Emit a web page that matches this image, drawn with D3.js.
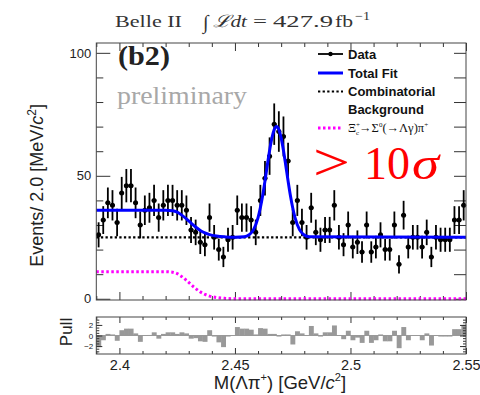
<!DOCTYPE html>
<html>
<head>
<meta charset="UTF-8">
<script src="https://d3js.org/d3.v7.min.js"></script>
<style>
  body { margin: 0; background: #fff; }
  text { font-family: "Liberation Sans", Arial, sans-serif; }
  .serif { font-family: "Liberation Serif", "Times New Roman", serif; }
  .axis text { font-family: "Liberation Sans", Arial, sans-serif; fill: #222; }
  .axis line { stroke: #333; }
</style>
</head>
<body>
<script>
// ---- DATA ----
var massMin = 2.39, massMax = 2.55, binWidth = 0.002;

// events per 2 MeV bin, 80 bins from 2.390 to 2.550
var counts = [
  26, 32, 39, 38, 31, 43, 46, 46, 39, 30, 36, 37, 40, 33, 38, 40, 40, 38, 38, 36,
  28, 27, 23, 22, 33, 25, 20, 17, 24, 25, 36, 33, 33, 32, 27, 40, 49, 58, 71, 68,
  66, 56, 31, 40, 31, 25, 37, 27, 24, 28, 28, 38, 25, 22, 30, 21, 23, 19, 30, 19,
  21, 26, 20, 20, 30, 14, 34, 21, 25, 25, 21, 27, 17, 25, 24, 24, 24, 32, 32, 38
];

// pull per bin
var pulls = [
  -2.2, -0.9, 0.3, 0.2, -1.0, 1.0, 1.3, 1.3, 0.4, -1.2, 0.0, 0.1, 0.6, -0.6, 0.3, 0.6, 0.6, 0.3, 0.6, 0.4,
  -0.6, -0.5, -1.1, -1.2, 1.0, -0.2, -1.3, -2.2, -0.2, 0.0, 1.6, 1.3, 1.3, 1.1, 0.2, 1.4, 1.3, 0.3, 0.3, -0.2,
  0.2, 0.2, -1.7, 0.8, 0.4, 0.0, 1.8, 0.4, -0.2, 0.6, 0.6, 1.9, 0.0, -0.7, 0.9, -0.9, -0.4, -1.4, 0.9, -1.4,
  -0.9, 0.2, -1.1, -1.1, 0.9, -2.4, 1.6, -0.9, 0.0, 0.0, -0.9, 0.4, -1.9, 0.0, -0.2, -0.2, -0.2, 1.2, 1.2, 2.0
];

// total fit curve
var fitMass = [2.390, 2.420, 2.423, 2.425, 2.427, 2.429, 2.431, 2.433, 2.435, 2.437, 2.439, 2.442, 2.446, 2.450,
  2.454, 2.456, 2.458, 2.460, 2.461, 2.462, 2.463, 2.464, 2.465, 2.466, 2.467, 2.468, 2.469, 2.470, 2.471,
  2.472, 2.473, 2.474, 2.475, 2.476, 2.478, 2.480, 2.482, 2.550];
var fitTotal = [36, 36, 35.8, 35.2, 34, 32.5, 30.8, 29.2, 27.8, 26.8, 26.1, 25.5, 25.15, 25.0,
  25.2, 25.9, 28.0, 33.0, 37.0, 42.0, 47.9, 54.2, 60.3, 65.4, 68.8, 70, 68.8, 65.4, 60.3,
  54.2, 47.9, 42.0, 37.0, 33.0, 28.0, 25.9, 25.2, 25];

// combinatorial background level
var bkgMass = [2.39, 2.55];
var bkgVal = [25, 25];

// Xi_c+ -> Sigma0(-> Lambda gamma) pi+ reflection
var xiMass = [2.390, 2.420, 2.423, 2.425, 2.427, 2.429, 2.431, 2.433, 2.435, 2.437, 2.439, 2.442, 2.446, 2.450, 2.550];
var xiVal = [11, 11, 10.8, 10.2, 9.0, 7.5, 5.8, 4.2, 2.8, 1.8, 1.1, 0.5, 0.15, 0, 0];

var xTicks = [2.4, 2.45, 2.5, 2.55];
var yTicks = [0, 50, 100];
var pullTicks = [-2, 0, 2];

// ---- LAYOUT ----
var W = 480, H = 395;
var left = 96.3, right = 466;
var mainTop = 43, mainBottom = 300;
var pullTop = 317, pullBottom = 354;

var svg = d3.select("body").append("svg")
  .attr("width", W).attr("height", H);

var x = d3.scaleLinear().domain([massMin, massMax]).range([left, right]);
var y = d3.scaleLinear().domain([-0.5, 104]).range([mainBottom, mainTop]);
var yp = d3.scaleLinear().domain([-3.5, 3.5]).range([pullBottom, pullTop]);

var bins = counts.map(function (n, i) {
  return { lo: massMin + i * binWidth, c: massMin + (i + 0.5) * binWidth, hi: massMin + (i + 1) * binWidth, n: n, p: pulls[i] };
});

var minorX = d3.range(2.39, 2.5501, 0.01).filter(function (v) {
  return !xTicks.some(function (t) { return Math.abs(t - v) < 1e-6; });
});

function noDomain(g) { g.select(".domain").remove(); }

// stretched text piece (the reference font is wider than what we have)
function piece(parent, cls, xx, yy, size, len, str, extra) {
  var t = parent.append("text").attr("class", cls).attr("x", xx).attr("y", yy)
    .style("font-size", size + "px").text(str);
  if (len) t.attr("textLength", len).attr("lengthAdjust", "spacingAndGlyphs");
  if (extra) extra(t);
  return t;
}

// ---- MAIN PANEL AXES ----
var gy = svg.append("g").attr("class", "axis")
  .attr("transform", "translate(" + left + ",0)")
  .call(d3.axisLeft(y).tickValues(yTicks).tickSize(-14).tickPadding(5).tickFormat(d3.format("d")))
  .call(noDomain);
gy.selectAll("text").style("font-size", "13px");
svg.append("g").attr("class", "axis")
  .attr("transform", "translate(" + left + ",0)")
  .call(d3.axisLeft(y).tickValues(d3.range(10, 100, 10).filter(function (v) { return v !== 50; })).tickSize(-7).tickFormat(""))
  .call(noDomain);
svg.append("g").attr("class", "axis")
  .attr("transform", "translate(" + right + ",0)")
  .call(d3.axisRight(y).tickValues(d3.range(0, 101, 10)).tickSize(-12).tickFormat(""))
  .call(noDomain);

[[mainBottom, d3.axisBottom], [mainTop, d3.axisTop]].forEach(function (s) {
  svg.append("g").attr("class", "axis").attr("transform", "translate(0," + s[0] + ")")
    .call(s[1](x).tickValues(xTicks).tickSize(-8).tickFormat("")).call(noDomain);
  svg.append("g").attr("class", "axis").attr("transform", "translate(0," + s[0] + ")")
    .call(s[1](x).tickValues(minorX).tickSize(-4).tickFormat("")).call(noDomain);
});

// ---- DATA POINTS ----
var pts = svg.append("g");
pts.selectAll(".ex").data(bins).enter().append("line")
  .attr("x1", function (d) { return x(d.lo); }).attr("x2", function (d) { return x(d.hi); })
  .attr("y1", function (d) { return y(d.n); }).attr("y2", function (d) { return y(d.n); })
  .attr("stroke", "#000").attr("stroke-width", 1.8);
pts.selectAll(".ey").data(bins).enter().append("line")
  .attr("x1", function (d) { return x(d.c); }).attr("x2", function (d) { return x(d.c); })
  .attr("y1", function (d) { return y(d.n - Math.sqrt(d.n)); })
  .attr("y2", function (d) { return y(d.n + Math.sqrt(d.n)); })
  .attr("stroke", "#000").attr("stroke-width", 1.8);
pts.selectAll("circle").data(bins).enter().append("circle")
  .attr("cx", function (d) { return x(d.c); }).attr("cy", function (d) { return y(d.n); })
  .attr("r", 2.5).attr("fill", "#000");

// ---- CURVES ----
function curve(xs, ys) {
  return d3.line().curve(d3.curveMonotoneX)
    .x(function (d, i) { return x(xs[i]); })
    .y(function (d, i) { return y(ys[i]); })(xs);
}
svg.append("path").attr("d", curve(xiMass, xiVal))
  .attr("fill", "none").attr("stroke", "#ff00ff").attr("stroke-width", 3).attr("stroke-dasharray", "2.5,2.5");
svg.append("path").attr("d", curve(bkgMass, bkgVal))
  .attr("fill", "none").attr("stroke", "#000").attr("stroke-width", 2.2).attr("stroke-dasharray", "2.3,2.3");
svg.append("path").attr("d", curve(fitMass, fitTotal))
  .attr("fill", "none").attr("stroke", "#0000ff").attr("stroke-width", 3);

svg.append("rect").attr("x", left).attr("y", mainTop)
  .attr("width", right - left).attr("height", mainBottom - mainTop)
  .attr("fill", "none").attr("stroke", "#444").attr("stroke-width", 1);

// ---- PULL PANEL ----
svg.append("line").attr("x1", left).attr("x2", right).attr("y1", yp(0)).attr("y2", yp(0))
  .attr("stroke", "#999").attr("stroke-width", 1);
svg.append("g").selectAll("rect").data(bins).enter().append("rect")
  .attr("x", function (d) { return x(d.lo); })
  .attr("width", function (d) { return x(d.hi) - x(d.lo) + 0.3; })
  .attr("y", function (d) { return Math.min(yp(d.p), yp(0)); })
  .attr("height", function (d) { return Math.abs(yp(d.p) - yp(0)); })
  .attr("fill", "#999");

var gpx = svg.append("g").attr("class", "axis").attr("transform", "translate(0," + pullBottom + ")")
  .call(d3.axisBottom(x).tickValues(xTicks).tickSize(-6).tickPadding(6).tickFormat(function (d) { return d; }))
  .call(noDomain);
gpx.selectAll("text").style("font-size", "14.5px");
svg.append("g").attr("class", "axis").attr("transform", "translate(0," + pullBottom + ")")
  .call(d3.axisBottom(x).tickValues(minorX).tickSize(-3).tickFormat("")).call(noDomain);
svg.append("g").attr("class", "axis").attr("transform", "translate(0," + pullTop + ")")
  .call(d3.axisTop(x).tickValues(xTicks).tickSize(-6).tickFormat("")).call(noDomain);
svg.append("g").attr("class", "axis").attr("transform", "translate(0," + pullTop + ")")
  .call(d3.axisTop(x).tickValues(minorX).tickSize(-3).tickFormat("")).call(noDomain);

var gpy = svg.append("g").attr("class", "axis").attr("transform", "translate(" + left + ",0)")
  .call(d3.axisLeft(yp).tickValues(pullTicks).tickSize(-6).tickPadding(3)
    .tickFormat(function (d) { return d < 0 ? "\u2212" + (-d) : d; }))
  .call(noDomain);
gpy.selectAll("text").style("font-size", "8px");
svg.append("g").attr("class", "axis").attr("transform", "translate(" + left + ",0)")
  .call(d3.axisLeft(yp).tickValues(d3.range(-3, 3.01, 0.5)).tickSize(-3).tickFormat("")).call(noDomain);
svg.append("g").attr("class", "axis").attr("transform", "translate(" + right + ",0)")
  .call(d3.axisRight(yp).tickValues(pullTicks).tickSize(-6).tickFormat("")).call(noDomain);
svg.append("g").attr("class", "axis").attr("transform", "translate(" + right + ",0)")
  .call(d3.axisRight(yp).tickValues(d3.range(-3, 3.01, 0.5)).tickSize(-3).tickFormat("")).call(noDomain);

svg.append("rect").attr("x", left).attr("y", pullTop)
  .attr("width", right - left).attr("height", pullBottom - pullTop)
  .attr("fill", "none").attr("stroke", "#444").attr("stroke-width", 1);

// ---- AXIS TITLES ----
var yl = svg.append("text").attr("transform", "translate(43,104) rotate(-90)")
  .attr("text-anchor", "end").style("font-size", "18px").attr("fill", "#222");
yl.append("tspan").text("Events/ 2.0 [MeV/");
yl.append("tspan").style("font-style", "italic").text("c");
yl.append("tspan").attr("dy", -7).style("font-size", "12px").text("2");
yl.append("tspan").attr("dy", 7).text("]");

svg.append("text").attr("transform", "translate(72,332) rotate(-90)")
  .attr("text-anchor", "middle").style("font-size", "17px").attr("fill", "#222").text("Pull");

var xl = svg.append("text").attr("x", 280).attr("y", 389)
  .attr("text-anchor", "middle").style("font-size", "18.5px").attr("fill", "#222");
xl.append("tspan").text("M(\u039b\u03c0");
xl.append("tspan").attr("dy", -8).style("font-size", "11px").text("+");
xl.append("tspan").attr("dy", 8).text(") [GeV/");
xl.append("tspan").style("font-style", "italic").text("c");
xl.append("tspan").attr("dy", -8).style("font-size", "11px").text("2");
xl.append("tspan").attr("dy", 8).text("]");

// ---- TITLE / LABELS ----
var tg = svg.append("g").attr("fill", "#333");
piece(tg, "serif", 115, 27, 17, 67, "Belle II");
piece(tg, "serif", 203, 29, 20, 0, "\u222b");
piece(tg, "serif", 213, 27, 17, 34, "\u2112dt", function (t) { t.style("font-style", "italic"); });
piece(tg, "serif", 253, 27, 17, 14, "=");
piece(tg, "serif", 273, 27, 17, 60, "427.9");
piece(tg, "serif", 335, 27, 17, 18, "fb");
piece(tg, "serif", 355, 20, 12, 15, "\u22121");

piece(svg, "serif", 118, 65, 27, 52, "(b2)", function (t) { t.style("font-weight", "bold").attr("fill", "#222"); });
piece(svg, "serif", 117, 104, 26, 130, "preliminary", function (t) { t.attr("fill", "#a8a8a8"); });

var sg = svg.append("g").attr("fill", "#ff0000");
piece(sg, "serif", 313, 180, 52, 37, ">");
piece(sg, "serif", 364, 179, 46, 46, "10");
piece(sg, "serif", 412, 179, 46, 27, "\u03c3", function (t) { t.style("font-style", "italic"); });

// ---- LEGEND ----
var lg = svg.append("g");
var lx0 = 318, lx1 = 343, tx = 348;
lg.append("line").attr("x1", lx0).attr("x2", lx1).attr("y1", 54).attr("y2", 54).attr("stroke", "#000").attr("stroke-width", 1.8);
lg.append("circle").attr("cx", (lx0 + lx1) / 2).attr("cy", 54).attr("r", 2.2).attr("fill", "#000");
lg.append("line").attr("x1", lx0).attr("x2", lx1).attr("y1", 73).attr("y2", 73).attr("stroke", "#0000ff").attr("stroke-width", 3);
lg.append("line").attr("x1", lx0).attr("x2", lx1).attr("y1", 91.5).attr("y2", 91.5).attr("stroke", "#000").attr("stroke-width", 2.2).attr("stroke-dasharray", "2.3,2.3");
lg.append("line").attr("x1", lx0).attr("x2", lx1).attr("y1", 128).attr("y2", 128).attr("stroke", "#ff00ff").attr("stroke-width", 3).attr("stroke-dasharray", "2.5,2.5");

[["Data", 58.5], ["Total Fit", 77.5], ["Combinatorial", 96], ["Background", 114]].forEach(function (t) {
  lg.append("text").attr("x", tx).attr("y", t[1]).style("font-size", "13px").style("font-weight", "bold")
    .attr("fill", "#111").text(t[0]);
});
var xi = lg.append("text").attr("class", "serif").attr("x", tx).attr("y", 132).style("font-size", "12.5px").attr("fill", "#111");
xi.append("tspan").text("\u039e");
xi.append("tspan").attr("dy", -5).style("font-size", "7px").text("+");
xi.append("tspan").attr("dx", -4).attr("dy", 8).style("font-size", "7px").text("c");
xi.append("tspan").attr("dy", -3).text("\u2192\u03a3");
xi.append("tspan").attr("dy", -5).style("font-size", "7px").text("0");
xi.append("tspan").attr("dy", 5).text("(\u2192\u039b\u03b3)\u03c0");
xi.append("tspan").attr("dy", -5).style("font-size", "7px").text("+");
</script>
</body>
</html>
